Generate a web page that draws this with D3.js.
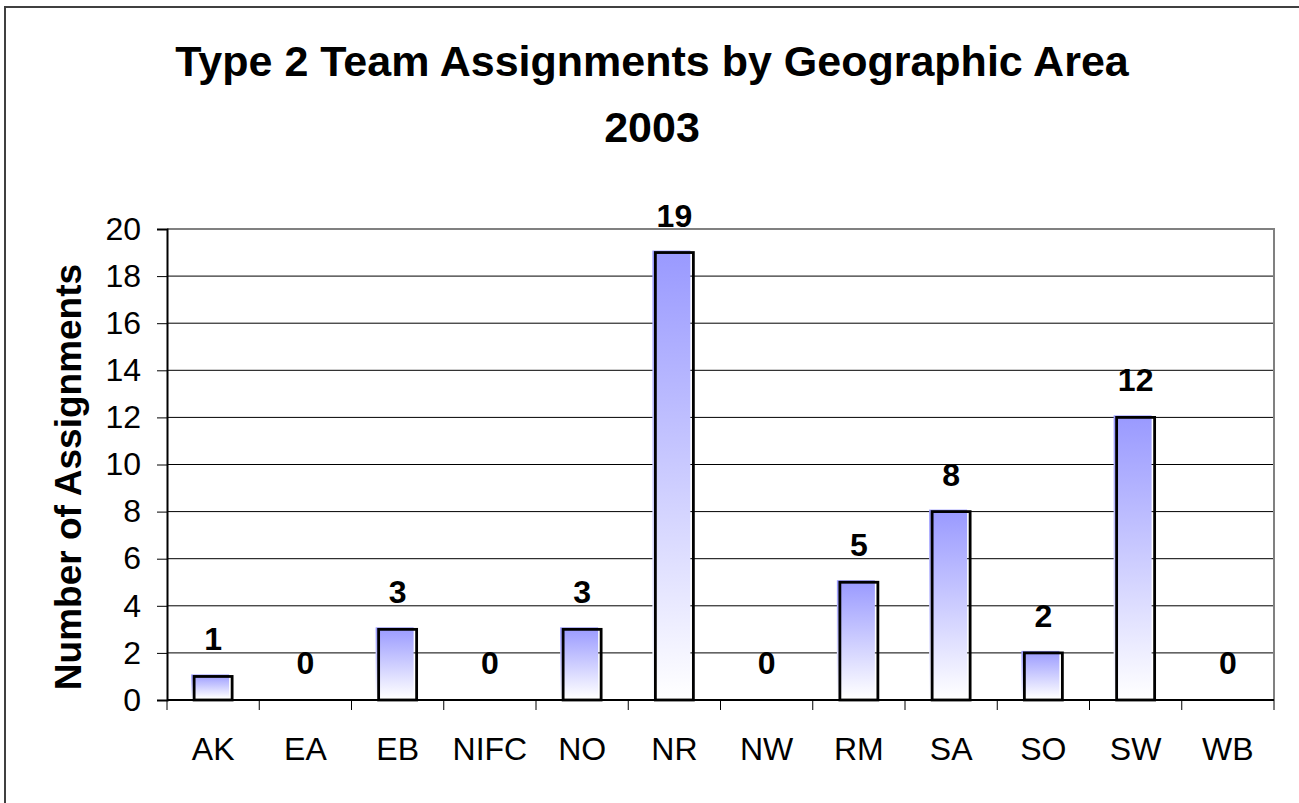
<!DOCTYPE html>
<html>
<head>
<meta charset="utf-8">
<script src="https://cdn.jsdelivr.net/npm/d3@7"></script>
<style>
  body { margin: 0; background: #fff; overflow: hidden; }
  svg { display: block; font-family: Arial, "Liberation Sans", sans-serif; }
</style>
</head>
<body>
<svg id="chart" width="1299" height="803"></svg>
<script>
// data
var areas = ['AK', 'EA', 'EB', 'NIFC', 'NO', 'NR', 'NW', 'RM', 'SA', 'SO', 'SW', 'WB'];
var assignments = [1, 0, 3, 0, 3, 19, 0, 5, 8, 2, 12, 0];
var yTicks = [0, 2, 4, 6, 8, 10, 12, 14, 16, 18, 20];
var titleLines = ['Type 2 Team Assignments by Geographic Area', '2003'];
var yTitle = 'Number of Assignments';

(function() {
    var svg = d3.select('#chart');
    var plotLeft = 167, plotRight = 1274, plotTop = 229, plotBottom = 700;

    // outer frame: only top and left edges show, the rest is cropped
    svg.append('path')
        .attr('d', 'M5,803V7H1299')
        .attr('fill', 'none')
        .attr('stroke', '#404040')
        .attr('stroke-width', 2);

    var x = d3.scaleBand().domain(areas).range([plotLeft, plotRight]).padding(0);
    var y = d3.scaleLinear().domain([0, 20]).range([plotBottom, plotTop]);

    // gradient for bars
    var grad = svg.append('defs').append('linearGradient')
        .attr('id', 'barGrad')
        .attr('x1', 0).attr('y1', 0).attr('x2', 0).attr('y2', 1);
    grad.append('stop').attr('offset', '0%').attr('stop-color', '#9999ff');
    grad.append('stop').attr('offset', '45%').attr('stop-color', '#c6c6ff');
    grad.append('stop').attr('offset', '100%').attr('stop-color', '#ffffff');

    // gridlines
    svg.append('g')
        .selectAll('line')
        .data(yTicks.filter(function(d) { return d > 0 && d < 20; }))
        .join('line')
        .attr('x1', plotLeft).attr('x2', plotRight)
        .attr('y1', function(d) { return y(d); })
        .attr('y2', function(d) { return y(d); })
        .attr('stroke', '#000')
        .attr('stroke-width', 1);

    // plot border top/right (gray)
    svg.append('path')
        .attr('d', 'M' + plotLeft + ',' + y(20) + 'H' + plotRight + 'V' + plotBottom)
        .attr('fill', 'none')
        .attr('stroke', '#808080')
        .attr('stroke-width', 2);

    // bars
    var barW = 38;
    var rows = areas.map(function(a, i) { return {area: a, value: assignments[i]}; });
    var bars = svg.append('g').selectAll('g')
        .data(rows)
        .join('g');

    bars.filter(function(d) { return d.value > 0; })
        .append('rect')
        .attr('x', function(d) { return x(d.area) + x.bandwidth() / 2 - barW / 2 - 3; })
        .attr('y', function(d) { return y(d.value) - 2; })
        .attr('width', barW)
        .attr('height', function(d) { return plotBottom - y(d.value); })
        .attr('fill', 'url(#barGrad)');

    bars.filter(function(d) { return d.value > 0; })
        .append('rect')
        .attr('x', function(d) { return x(d.area) + x.bandwidth() / 2 - barW / 2; })
        .attr('y', function(d) { return y(d.value); })
        .attr('width', barW)
        .attr('height', function(d) { return plotBottom - y(d.value); })
        .attr('fill', 'none')
        .attr('stroke', '#000')
        .attr('stroke-width', 2.8);

    bars.append('text')
        .attr('x', function(d) { return x(d.area) + x.bandwidth() / 2; })
        .attr('y', function(d) { return y(d.value) - 26; })
        .attr('text-anchor', 'middle')
        .attr('font-size', 32)
        .attr('font-weight', 'bold')
        .text(function(d) { return d.value; });

    // y axis
    var yAxis = svg.append('g')
        .attr('transform', 'translate(' + plotLeft + ',0)')
        .call(d3.axisLeft(y).tickValues(yTicks).tickSize(10).tickPadding(16));
    yAxis.select('.domain').attr('stroke', '#000').attr('stroke-width', 2);
    yAxis.selectAll('.tick line').attr('stroke', '#000').attr('stroke-width', 1);
    yAxis.selectAll('.tick text')
        .attr('font-size', 32)
        .attr('font-family', 'Arial, "Liberation Sans", sans-serif')
        .attr('fill', '#000');

    // x axis: ticks at category boundaries
    svg.append('line')
        .attr('x1', plotLeft).attr('x2', plotRight)
        .attr('y1', plotBottom).attr('y2', plotBottom)
        .attr('stroke', '#000').attr('stroke-width', 2);
    var bounds = areas.map(function(a) { return x(a); }).concat([plotRight]);
    svg.append('g').selectAll('line')
        .data(bounds)
        .join('line')
        .attr('x1', function(d) { return d; }).attr('x2', function(d) { return d; })
        .attr('y1', plotBottom).attr('y2', plotBottom + 10)
        .attr('stroke', '#000').attr('stroke-width', 1);
    svg.append('g').selectAll('text')
        .data(areas)
        .join('text')
        .attr('x', function(d) { return x(d) + x.bandwidth() / 2; })
        .attr('y', 760)
        .attr('text-anchor', 'middle')
        .attr('font-size', 32)
        .text(function(d) { return d; });

    // y title
    svg.append('text')
        .attr('transform', 'translate(81,477) rotate(-90)')
        .attr('text-anchor', 'middle')
        .attr('font-size', 37)
        .attr('font-weight', 'bold')
        .text(yTitle);

    // title
    svg.append('g').selectAll('text')
        .data(titleLines)
        .join('text')
        .attr('x', 652)
        .attr('y', function(d, i) { return 76 + i * 66; })
        .attr('text-anchor', 'middle')
        .attr('font-size', 43)
        .attr('font-weight', 'bold')
        .text(function(d) { return d; });
})();
</script>
</body>
</html>
